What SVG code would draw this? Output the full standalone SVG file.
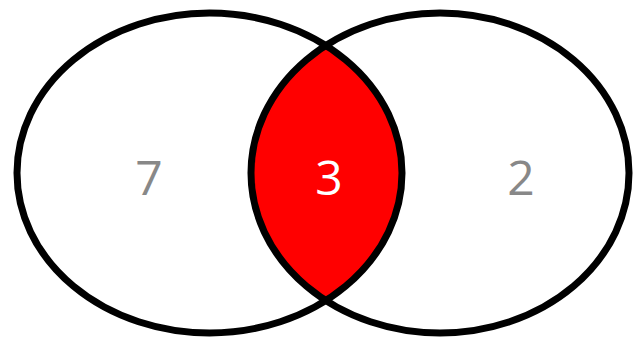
<svg xmlns="http://www.w3.org/2000/svg" width="633" height="337" viewBox="0 0 633 337">
<style>
.ring{fill:none;stroke:#000;stroke-width:7}
.lbl{font-family:"Open Sans","Noto Sans",sans-serif;font-size:48px;text-anchor:middle}
.gray{fill:#888}
.white{fill:#fff}
</style>
<rect width="633" height="337" fill="#fff"/>
<g id="intersection">
<path d="M327,46 A189,160 0 0 0 327,300 A192.5,160 0 0 0 327,46 Z" fill="#ff0000"/>
</g>
<g id="setA">
<ellipse class="ring" cx="209.5" cy="173" rx="192.5" ry="160"/>
<text class="lbl gray" x="149" y="195">7</text>
</g>
<g id="setB">
<ellipse class="ring" cx="440" cy="173" rx="189" ry="160"/>
<text class="lbl gray" x="521" y="195">2</text>
</g>
<g id="both">
<text class="lbl white" x="329" y="195">3</text>
</g>
<g id="connectors"/>
</svg>
